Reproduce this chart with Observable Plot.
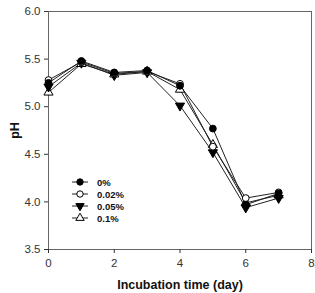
<!DOCTYPE html>
<html><head><meta charset="utf-8">
<script src="https://cdn.jsdelivr.net/npm/d3@7"></script>
<script src="https://cdn.jsdelivr.net/npm/@observablehq/plot@0.6"></script>
<style>
body{margin:0;background:#fff;font-family:"Liberation Sans",Arial,sans-serif;}
#wrap{position:relative;width:315px;height:293px;}
#legend{position:absolute;left:70px;top:176px;}
</style></head><body>
<div id="wrap"><div id="chart"></div><div id="legend"></div></div>
<script>
const days = [0,1,2,3,4,5,6,7];
const seriesNames = ["0%","0.02%","0.05%","0.1%"];
const ph0   = [5.25,5.48,5.36,5.38,5.22,4.77,3.97,4.09];
const ph002 = [5.28,5.47,5.35,5.37,5.24,4.58,4.04,4.10];
const ph005 = [5.21,5.46,5.33,5.36,5.01,4.52,3.94,4.04];
const ph01  = [5.15,5.45,5.34,5.37,5.18,4.60,3.99,4.07];
const xTicks = [0,2,4,6,8];
const yTicks = [3.5,4.0,4.5,5.0,5.5,6.0];

const styles = {
  "0%":    {symbol:"circle",   fill:"#000", rotate:0},
  "0.02%": {symbol:"circle",   fill:"#fff", rotate:0},
  "0.05%": {symbol:"triangle", fill:"#000", rotate:180},
  "0.1%":  {symbol:"triangle", fill:"#fff", rotate:0}
};
const allVals = [ph0, ph002, ph005, ph01];
const data = [];
seriesNames.forEach((s,i)=>days.forEach((d,j)=>data.push({series:s, day:d, ph:allVals[i][j]})));

const marks = [
  Plot.frame({stroke:"#666", strokeWidth:1}),
  Plot.axisX({ticks:xTicks, tickSize:4, tickPadding:5, tickFormat:d=>String(d), fontSize:11.5, color:"#333",
    label:"Incubation time (day)", labelAnchor:"center", labelArrow:"none", labelOffset:39}),
  Plot.axisY({ticks:yTicks, tickSize:4, tickPadding:4, tickFormat:d=>d.toFixed(1), fontSize:11.5, color:"#333",
    label:"pH", labelAnchor:"center", labelArrow:"none", labelOffset:38}),
  Plot.line(data, {x:"day", y:"ph", z:"series", stroke:"#222", strokeWidth:1})
];
["0.1%","0.05%","0.02%","0%"].forEach(s=>{
  const st = styles[s];
  marks.push(Plot.dot(data.filter(d=>d.series===s), {x:"day", y:"ph", symbol:()=>st.symbol, r:3.4,
    fill:st.fill, stroke:"#000", strokeWidth:1, rotate:st.rotate}));
});

const chart = Plot.plot({
  width:315, height:293,
  marginLeft:48, marginTop:11, marginRight:4, marginBottom:44,
  x:{domain:[0,8]},
  y:{domain:[3.5,6.0]},
  symbol:{type:"identity"},
  style:{fontFamily:"Liberation Sans, Arial, sans-serif", background:"#fff", overflow:"visible"},
  marks
});
d3.select(chart).selectAll("[aria-label='x-axis label'] text, [aria-label='y-axis label'] text")
  .attr("font-weight","bold").attr("font-size",12.5).attr("fill","#111");
document.getElementById("chart").appendChild(chart);

// legend
const lg = d3.select("#legend").append("svg").attr("width",80).attr("height",50)
  .style("font-family","Liberation Sans, Arial, sans-serif");
seriesNames.forEach((s,i)=>{
  const g = lg.append("g").attr("transform",`translate(0,${6+i*12})`);
  g.append("line").attr("x1",2).attr("x2",18).attr("y1",0).attr("y2",0).attr("stroke","#222");
  const st = styles[s];
  const sym = d3.symbol(st.symbol==="circle"?d3.symbolCircle:d3.symbolTriangle, st.symbol==="circle"?32:30);
  g.append("path").attr("d",sym()).attr("transform",`translate(10,0) rotate(${st.rotate})`)
    .attr("fill",st.fill).attr("stroke","#000");
  g.append("text").attr("x",27).attr("y",3.5).attr("font-size",9.5).attr("font-weight","bold").attr("fill","#111").text(s);
});
</script></body></html>
